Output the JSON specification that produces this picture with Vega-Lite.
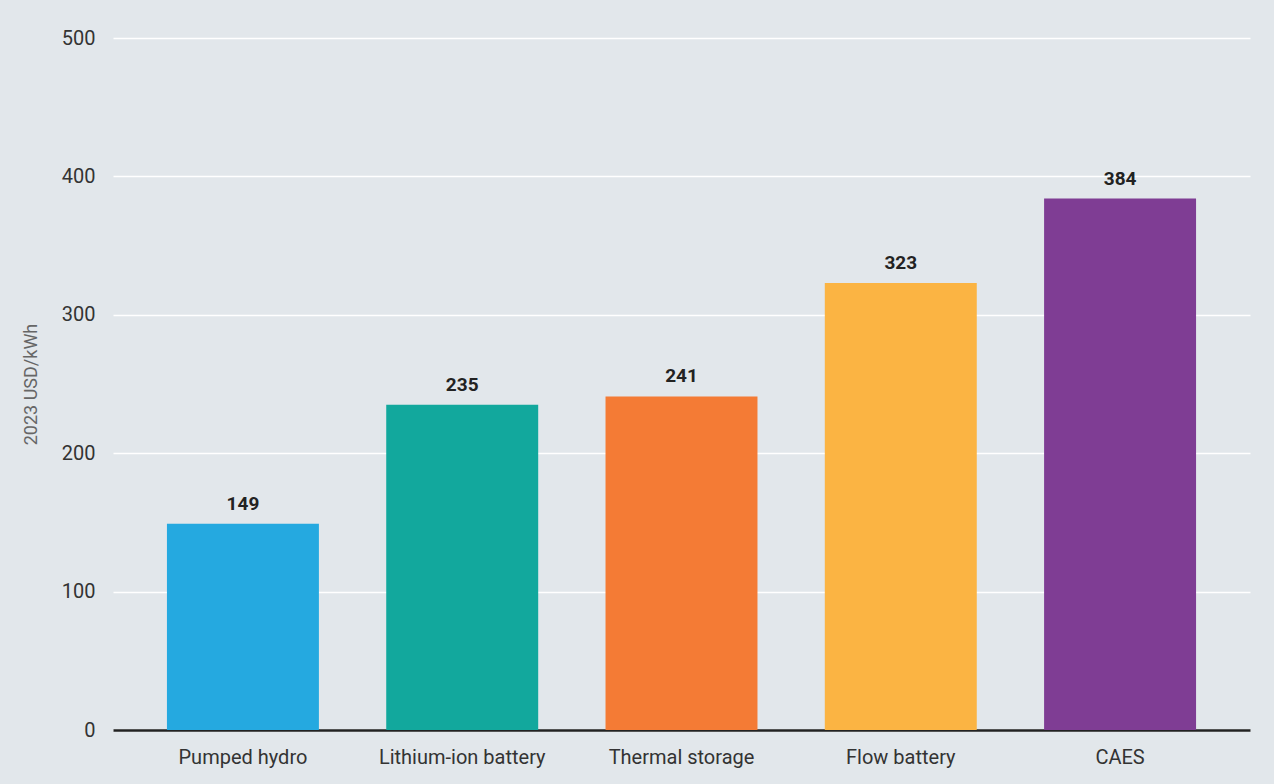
{
  "$schema": "https://vega.github.io/schema/vega-lite/v6.json",
  "width": 1137,
  "height": 692,
  "autosize": {"type": "none"},
  "padding": {"left": 113, "top": 38, "right": 24, "bottom": 54},
  "background": "#e2e7eb",
  "config": {
    "view": {"stroke": null, "fill": "#e2e7eb"},
    "font": "Roboto"
  },
  "data": {
    "values": [
      {"tech": "Pumped hydro", "cost": 149},
      {"tech": "Lithium-ion battery", "cost": 235},
      {"tech": "Thermal storage", "cost": 241},
      {"tech": "Flow battery", "cost": 323},
      {"tech": "CAES", "cost": 384}
    ]
  },
  "encoding": {
    "x": {
      "field": "tech",
      "type": "nominal",
      "sort": null,
      "scale": {"paddingInner": 0.307, "paddingOuter": 0.246},
      "axis": {
        "title": null,
        "labelAngle": 0,
        "labelFontSize": 20,
        "labelFontWeight": "normal",
        "labelColor": "#333333",
        "labelPadding": 17,
        "ticks": false,
        "domainColor": "#222222",
        "domainWidth": 2.5,
        "grid": false
      }
    },
    "y": {
      "field": "cost",
      "type": "quantitative",
      "scale": {"domain": [0, 500]},
      "axis": {
        "title": "2023 USD/kWh",
        "titleFontSize": 18,
        "titleFontWeight": "normal",
        "titleColor": "#666666",
        "titleX": -73,
        "values": [0, 100, 200, 300, 400, 500],
        "labelFontSize": 20,
        "labelFontWeight": "normal",
        "labelColor": "#333333",
        "labelPadding": 18,
        "ticks": false,
        "domain": false,
        "gridColor": "#ffffff",
        "gridWidth": 1.5
      }
    }
  },
  "layer": [
    {
      "mark": {"type": "bar"},
      "encoding": {
        "color": {
          "field": "tech",
          "type": "nominal",
          "sort": null,
          "legend": null,
          "scale": {
            "domain": ["Pumped hydro", "Lithium-ion battery", "Thermal storage", "Flow battery", "CAES"],
            "range": ["#25a9e0", "#12a89d", "#f47b35", "#fbb443", "#7f3d94"]
          }
        }
      }
    },
    {
      "mark": {"type": "text", "baseline": "bottom", "dy": -10, "fontSize": 19, "fontWeight": "bold", "color": "#222222"},
      "encoding": {"text": {"field": "cost", "type": "quantitative"}}
    }
  ]
}
